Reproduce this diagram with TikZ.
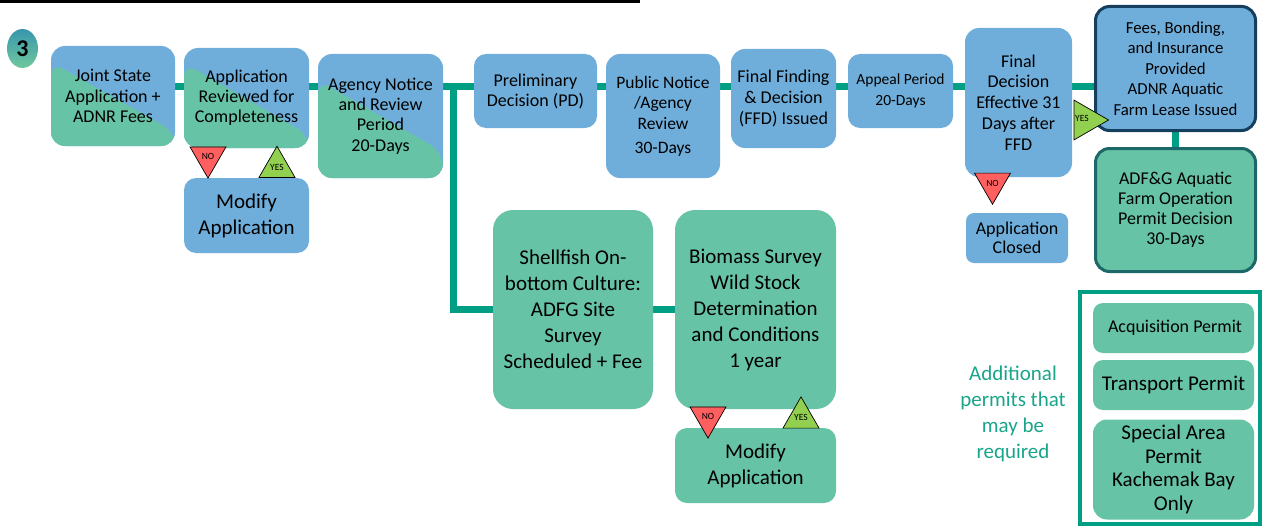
\documentclass[tikz,border=0pt]{standalone}
\usepackage{fontspec}
\setmainfont{Carlito}
\usetikzlibrary{shapes.geometric,backgrounds,calc}
\definecolor{bxblue}{RGB}{111,174,219}
\definecolor{bxgreen}{RGB}{102,195,165}
\definecolor{lnteal}{RGB}{0,158,130}
\definecolor{navyb}{RGB}{22,62,95}
\definecolor{dkteal}{RGB}{28,104,104}
\definecolor{trired}{RGB}{255,95,95}
\definecolor{trigreen}{RGB}{146,208,80}
\definecolor{txteal}{RGB}{26,165,138}
\definecolor{numtop}{RGB}{55,150,172}
\definecolor{numbot}{RGB}{112,200,158}
\newcommand{\fsz}[2]{\fontsize{#1}{#2}\selectfont}
\begin{document}
\begin{tikzpicture}[x=1pt,y=-1pt,
  box/.style={rounded corners=14pt, align=center, inner sep=0pt, text=black},
  bluebox/.style={box, fill=bxblue},
  greenbox/.style={box, fill=bxgreen},
  splitbox/.style 2 args={box, fill=bxblue, path picture={
    \fill[bxgreen] ($(path picture bounding box.north west)!#1!(path picture bounding box.south west)$)
      -- ($(path picture bounding box.north east)!#2!(path picture bounding box.south east)$)
      -- (path picture bounding box.south east) -- (path picture bounding box.south west) -- cycle;}},
  conn/.style={draw=lnteal, line width=7pt},
  tri/.style={regular polygon, regular polygon sides=3, draw=black, line width=0.7pt,
    inner sep=0pt, minimum size=41.6pt, font=\fsz{9.5}{9.5}},
]
\useasboundingbox (0,0) rectangle (1265,527);
\fill[black] (0,0) rectangle (640,3.5);

\node[ellipse, minimum width=31pt, minimum height=39pt, inner sep=0pt,
  top color=numtop, bottom color=numbot, font=\bfseries\fsz{24}{24}] (num) at (22.5,48.5) {3};

% top row
\node[splitbox={0.16}{0.86}, minimum width=124pt, minimum height=100pt, font=\fsz{18}{20.5}] (js) at (113,96) {Joint State\\Application +\\ADNR Fees};
\node[splitbox={0.15}{0.87}, minimum width=125pt, minimum height=100pt, font=\fsz{18}{20}] (ar) at (246.5,98) {Application\\Reviewed for\\Completeness};
\node[splitbox={0.21}{0.79}, minimum width=125pt, minimum height=124pt, font=\fsz{18}{20.3}] (an) at (380.5,116) {Agency Notice\\and Review\\Period\\20-Days};
\node[bluebox, minimum width=125pt, minimum height=75pt, rounded corners=12pt, font=\fsz{21}{26}] (mod1) at (246.5,215.5) {Modify\\Application};
\node[bluebox, minimum width=123pt, minimum height=74pt, rounded corners=12pt, font=\fsz{18}{20}] (pd) at (535.5,91) {Preliminary\\Decision (PD)};
\node[bluebox, minimum width=114pt, minimum height=124pt, font=\fsz{17.5}{20.7}] (pn) at (663,116) {Public Notice\\/Agency\\Review\\[3pt]30-Days};
\node[bluebox, minimum width=105pt, minimum height=99pt, font=\fsz{18}{21}] (ff) at (783.5,98.5) {Final Finding\\\& Decision\\(FFD) Issued};
\node[bluebox, minimum width=105pt, minimum height=74pt, rounded corners=12pt, font=\fsz{15.5}{21}] (ap) at (900.5,91) {Appeal Period\\20-Days};
\node[bluebox, minimum width=107pt, minimum height=149pt, font=\fsz{18}{20.8}] (fd) at (1018.5,102.5) {Final\\Decision\\Effective 31\\Days after\\FFD};
\node[bluebox, draw=navyb, line width=3pt, minimum width=160pt, minimum height=124pt, font=\fsz{16.8}{20.5}] (fees) at (1175.5,68.5) {Fees, Bonding,\\and Insurance\\Provided\\ADNR Aquatic\\Farm Lease Issued};
\node[greenbox, draw=dkteal, line width=3pt, minimum width=160pt, minimum height=123pt, font=\fsz{18}{20}] (adfg) at (1175.5,210) {ADF\&G Aquatic\\Farm Operation\\Permit Decision\\30-Days};
\node[bluebox, minimum width=102pt, minimum height=50pt, rounded corners=8pt, font=\fsz{18}{19.5}] (ac) at (1017,238) {Application\\Closed};

% lower branch
\node[greenbox, minimum width=160pt, minimum height=199pt, rounded corners=20pt, font=\fsz{21}{26}] (sh) at (573,309.5) {Shellfish On-\\bottom Culture:\\ADFG Site\\Survey\\Scheduled + Fee};
\node[greenbox, minimum width=161pt, minimum height=199pt, rounded corners=20pt, font=\fsz{21}{26}] (bm) at (755.5,309.5) {Biomass Survey\\Wild Stock\\Determination\\and Conditions\\1 year};
\node[greenbox, minimum width=161pt, minimum height=75pt, rounded corners=12pt, font=\fsz{21}{26}] (mod2) at (755.5,465.5) {Modify\\Application};

% additional permits
\node[draw=lnteal, line width=3.5pt, minimum width=180pt, minimum height=232pt, inner sep=0pt] (frame) at (1170,408) {};
\node[greenbox, minimum width=161pt, minimum height=50pt, rounded corners=10pt, font=\fsz{18}{20}] (acq) at (1173.5,328) {\hspace{3pt}Acquisition Permit};
\node[greenbox, minimum width=161pt, minimum height=50pt, rounded corners=10pt, font=\fsz{21}{24}] (tp) at (1173.5,385) {Transport Permit};
\node[greenbox, minimum width=161pt, minimum height=100pt, rounded corners=14pt, font=\fsz{21}{23.5}] (sp) at (1173.5,469.5) {Special Area\\Permit\\Kachemak Bay\\Only};
\node[align=center, text=txteal, font=\fsz{21}{26}, inner sep=0pt] (addl) at (1013,414) {Additional\\permits that\\may be\\required};

% connectors
\coordinate (lvl) at (0,86);
\coordinate (br) at (453,86);
\begin{pgfonlayer}{background}
\foreach \a/\b in {js/ar, ar/an, an/pd, pd/pn, pn/ff, ff/ap, ap/fd, fd/fees}
  \draw[conn] (\a.east |- lvl) -- (\b.west |- lvl);
\draw[conn] (br) |- (sh.west);
\draw[conn] (sh) -- (bm);
\draw[conn] (fees) -- (adfg);
\end{pgfonlayer}

% decision triangles
\node[tri, fill=trired, shape border rotate=180] (no1) at (208,157.3) {\raisebox{1pt}{NO}};
\node[tri, fill=trigreen] (yes1) at (277,167) {\raisebox{-3pt}{YES}};
\node[tri, fill=trired, shape border rotate=180] (no2) at (708,417.3) {\raisebox{1pt}{NO}};
\node[tri, fill=trigreen] (yes2) at (801,417.7) {\raisebox{-2pt}{YES}};
\node[tri, fill=trired, shape border rotate=180] (no3) at (992.5,183.5) {NO};
\node[tri, fill=trigreen, shape border rotate=-90, minimum size=46pt] (yes3) at (1085.5,120) {};
\node[font=\fsz{9.5}{9.5}, inner sep=0pt] (yes3t) at (1082,118) {YES};
\end{tikzpicture}
\end{document}
